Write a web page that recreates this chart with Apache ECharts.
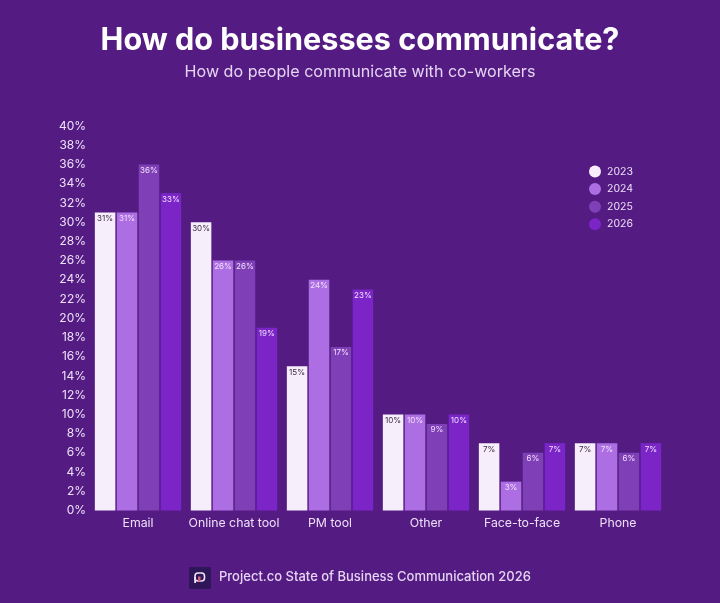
<!DOCTYPE html>
<html>
<head>
<meta charset="utf-8">
<style>html,body{margin:0;padding:0;background:#541c82}#chart{width:720px;height:603px}</style>
<script src="https://cdn.jsdelivr.net/npm/echarts@6/dist/echarts.min.js"></script>
</head>
<body>
<div id="chart"></div>
<script>
const categories = ['Email', 'Online chat tool', 'PM tool', 'Other', 'Face-to-face', 'Phone'];
const years = ['2023', '2024', '2025', '2026'];
const values2023 = [31, 30, 15, 10, 7, 7];
const values2024 = [31, 26, 24, 10, 3, 7];
const values2025 = [36, 26, 17, 9, 6, 6];
const values2026 = [33, 19, 23, 10, 7, 7];
const seriesValues = [values2023, values2024, values2025, values2026];
const barColors = ['#f7eefb', '#ac6ee2', '#7f3fb6', '#7b24c8'];
const labelColors = ['#3a2a44', '#f1e2fb', '#f1e2fb', '#f1e2fb'];
const fontFamily = 'Inter, "Noto Sans", sans-serif';
const textColor = '#efe0fa';

const chart = echarts.init(document.getElementById('chart'), null, { renderer: 'canvas' });
chart.setOption({
  backgroundColor: '#541c82',
  animation: false,
  title: [
    {
      text: 'How do businesses communicate?',
      left: 'center', top: 20.5,
      textStyle: { color: '#ffffff', fontFamily, fontSize: 30.6, fontWeight: 700 }
    },
    {
      text: 'How do people communicate with co-workers',
      left: 'center', top: 59,
      textStyle: { color: '#e6d4f4', fontFamily, fontSize: 16.1, fontWeight: 400 }
    }
  ],
  legend: {
    orient: 'vertical',
    left: 584, top: 160.5,
    icon: 'circle',
    itemWidth: 12, itemHeight: 12, itemGap: 5.6,
    data: years,
    textStyle: { color: textColor, fontFamily, fontSize: 10.5, padding: [0, 0, 0, 1] }
  },
  grid: { left: 90, right: 54, top: 126, bottom: 92.5 },
  xAxis: {
    type: 'category',
    data: categories,
    axisLine: { show: false },
    axisTick: { show: false },
    axisLabel: { color: textColor, fontFamily, fontSize: 12.3, margin: 7, interval: 0 }
  },
  yAxis: {
    type: 'value',
    min: 0, max: 40, interval: 2,
    splitLine: { show: false },
    axisLine: { show: false },
    axisTick: { show: false },
    axisLabel: { color: textColor, fontFamily, fontSize: 12, margin: 4, formatter: '{value}%' }
  },
  series: years.map((year, i) => ({
    name: year,
    type: 'bar',
    data: seriesValues[i],
    barWidth: 20.5,
    barGap: '7%',
    itemStyle: { color: barColors[i] },
    label: {
      show: true,
      position: 'insideTop',
      distance: 2,
      formatter: '{c}%',
      color: labelColors[i],
      fontFamily,
      fontSize: 8
    }
  })),
  graphic: [
    // Project.co mark: dark tile with a rounded "P"
    { type: 'rect', shape: { x: 189, y: 567, width: 22, height: 22, r: 1 }, style: { fill: '#2e1658' } },
    { type: 'rect', shape: { x: 195, y: 573, width: 9.5, height: 8, r: 3 }, style: { fill: 'none', stroke: '#f0e4f8', lineWidth: 1.6 } },
    { type: 'rect', shape: { x: 194.2, y: 577, width: 1.8, height: 6 }, style: { fill: '#f0e4f8' } },
    { type: 'rect', shape: { x: 198, y: 576.5, width: 2.5, height: 5 }, style: { fill: '#d8607a' } },
    {
      type: 'text', left: 219, top: 571,
      style: { text: 'Project.co State of Business Communication 2026', fill: '#e6d4f4', font: '500 13px ' + fontFamily }
    }
  ]
});
</script>
</body>
</html>
